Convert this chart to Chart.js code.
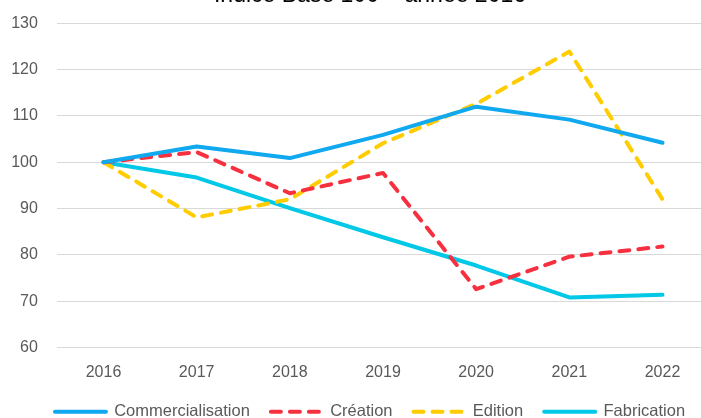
<!DOCTYPE html>
<html>
<head>
<meta charset="utf-8">
<script src="https://cdn.jsdelivr.net/npm/chart.js@4/dist/chart.umd.min.js"></script>
<style>
  html, body { margin: 0; padding: 0; background: #fff; overflow: hidden; width: 701px; height: 418px; }
  #wrap { position: absolute; left: 0; top: -20px; width: 730px; height: 450px; }
</style>
</head>
<body>
<div id="wrap"><canvas id="c" width="730" height="450"></canvas></div>
<script>
const titleText = 'Indice Base 100 – année 2016';
const years = ['2016', '2017', '2018', '2019', '2020', '2021', '2022'];
const commercialisation = [100, 103.4, 100.9, 105.9, 112.0, 109.2, 104.2];
const creation = [100, 102.2, 93.3, 97.7, 72.6, 79.6, 81.8];
const edition = [100, 88.1, 92.0, 104.1, 112.6, 123.9, 92.0];
const fabrication = [100, 96.7, 90.1, 83.8, 77.7, 70.8, 71.4];
const seriesNames = ['Commercialisation', 'Création', 'Edition', 'Fabrication'];
const yMin = 60, yMax = 130, yStep = 10;

const textColor = '#595959';
const fontFamily = '"Liberation Sans", Arial, sans-serif';

function ds(label, data, color, dashed) {
  return {
    label: label,
    data: data,
    borderColor: color,
    backgroundColor: color,
    borderWidth: 4,
    borderDash: dashed ? [10, 9] : [],
    borderCapStyle: 'round',
    borderJoinStyle: 'round',
    pointRadius: 0,
    pointHoverRadius: 0,
    pointStyle: 'line',
    tension: 0,
    fill: false
  };
}

new Chart(document.getElementById('c'), {
  type: 'line',
  data: {
    labels: years,
    datasets: [
      ds(seriesNames[0], commercialisation, '#10a8ef', false),
      ds(seriesNames[1], creation, '#f7303f', true),
      ds(seriesNames[2], edition, '#ffcc00', true),
      ds(seriesNames[3], fabrication, '#00c8e6', false)
    ]
  },
  options: {
    responsive: false,
    animation: false,
    devicePixelRatio: 1,
    layout: { padding: { left: 10, right: 0, top: 0, bottom: 0 } },
    plugins: {
      title: {
        display: true,
        text: titleText,
        color: '#000',
        font: { family: fontFamily, size: 23, weight: 'normal' },
        padding: { top: 2, bottom: 13.7 }
      },
      legend: {
        position: 'bottom',
        labels: {
          usePointStyle: true,
          pointStyleWidth: 51,
          padding: 21,
          color: textColor,
          font: { family: fontFamily, size: 16.5 },
          generateLabels: (chart) => {
            const items = Chart.defaults.plugins.legend.labels.generateLabels(chart);
            items.forEach((it) => {
              const d = chart.data.datasets[it.datasetIndex];
              it.lineDash = d.borderDash;
              it.lineCap = d.borderCapStyle;
              it.lineWidth = d.borderWidth;
              it.strokeStyle = d.borderColor;
              it.pointStyle = 'line';
            });
            return items;
          }
        }
      },
      tooltip: { enabled: false }
    },
    scales: {
      x: {
        offset: true,
        grid: { display: false, drawTicks: false },
        border: { display: false },
        ticks: { color: textColor, font: { family: fontFamily, size: 16 }, padding: 15, maxRotation: 0 },
        afterFit: (s) => { s.height = 35; }
      },
      y: {
        min: yMin, max: yMax,
        grid: { color: '#d9d9d9', lineWidth: 1, drawTicks: false },
        border: { display: false },
        ticks: { stepSize: yStep, color: textColor, font: { family: fontFamily, size: 16 }, padding: 19 },
        afterFit: (s) => { s.width = 46.9; }
      },
      yR: {
        position: 'right',
        display: true,
        grid: { display: false, drawTicks: false },
        border: { display: false },
        ticks: { display: false },
        afterFit: (s) => { s.width = 20.9; }
      }
    }
  }
});
</script>
</body>
</html>
